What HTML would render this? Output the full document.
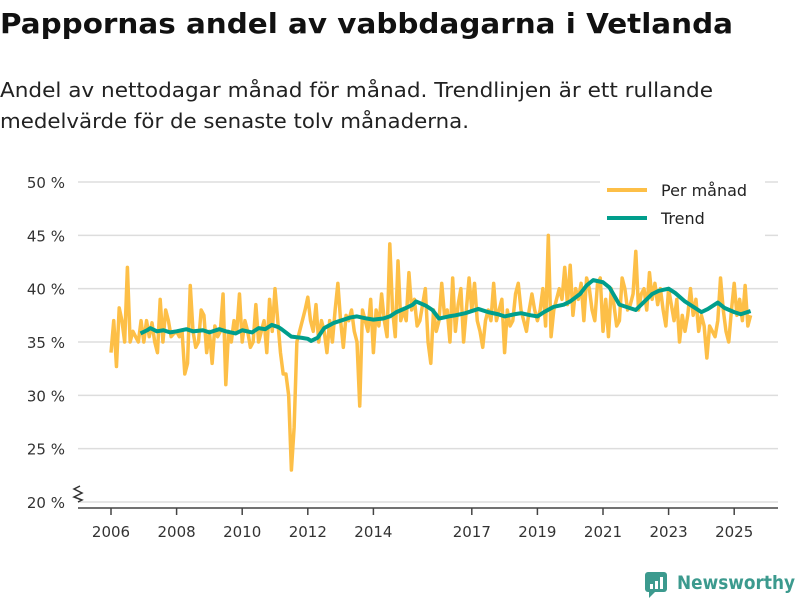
<!DOCTYPE html>
<html><head><meta charset="utf-8"><style>
body{margin:0;width:800px;height:600px;background:#fff;font-family:"DejaVu Sans",sans-serif;overflow:hidden}
svg text{font-family:"DejaVu Sans",sans-serif}
</style></head><body>
<svg width="800" height="600" style="position:absolute;left:0;top:0">
<text x="0" y="33" font-size="28" font-weight="bold" fill="#111" textLength="733" lengthAdjust="spacingAndGlyphs">Pappornas andel av vabbdagarna i Vetlanda</text>
<text x="0" y="97" font-size="20" fill="#222" textLength="713" lengthAdjust="spacingAndGlyphs">Andel av nettodagar månad för månad. Trendlinjen är ett rullande</text>
<text x="0" y="128" font-size="20" fill="#222" textLength="469" lengthAdjust="spacingAndGlyphs">medelvärde för de senaste tolv månaderna.</text>
<g id="grid"></g><g id="xaxis"></g><g id="series"></g>
<g>
<rect x="600" y="176" width="165" height="62" fill="#fff"/>
<line x1="607" y1="190" x2="647" y2="190" stroke="#fdbf47" stroke-width="4"/>
<text x="661" y="196" font-size="16" fill="#222">Per månad</text>
<line x1="607" y1="218" x2="647" y2="218" stroke="#009e8c" stroke-width="4"/>
<text x="661" y="224" font-size="16" fill="#222">Trend</text>
</g>
<g>
<rect x="645" y="572" width="22" height="20" rx="3" fill="#3c9a8e"/>
<path d="M649 592 L649 598 L655 592 Z" fill="#3c9a8e"/>
<rect x="650" y="584" width="3" height="5" fill="#fff"/><rect x="655" y="581" width="3" height="8" fill="#fff"/><rect x="660" y="577" width="3" height="12" fill="#fff"/>
<text x="677" y="589" font-size="19" font-weight="bold" fill="#3c9a8e" textLength="118" lengthAdjust="spacingAndGlyphs">Newsworthy</text>
</g>
</svg>
<script>
const yTicks=[20,25,30,35,40,45,50];
const xTicks=[2006,2008,2010,2012,2014,2017,2019,2021,2023,2025];
const startYear=2006;
const monthly=[
34,37,32.7,38.2,37,35,42,35,36,35.5,35,37,
35,37,35.5,36.8,35,34,39,35,38,37,35.5,35.8,
36,35.5,36,32,33,40.3,36,34.5,35,38,37.5,34,
36,33,36.5,35.5,36,39.5,31,36,35,37,36,39.5,
35,37,36,34.5,35,38.5,35,36,37,34,39,36,
40,37,34,32,32,30,23,27,35,36,37,38,
39.2,37,36,38.5,35,37,36,34,37,35,38,40.5,
37,34.5,37.5,37,38,36,35,29,38,37,36,39,
34,38,36.5,39.5,37,35.5,44.2,38,35.5,42.6,37,38,
37,41.5,38,39,36.5,37,38.5,40,35,33,38,36,
37,40.5,37.5,38,35,41,36,38.5,40,35,38,41,
38,40.5,37,36,34.5,37,38,37,40.5,37,38,39,
34,38,36.5,37,39.5,40.5,38,37,36,38,39.5,38,
37,38,40,36.5,45,35.5,38,39,40,39,42,38.5,
42.2,37.5,40,39,40.5,37,41,40,38,37,40.5,41,
36,39,35.5,40,38.5,36.5,37,41,40,38,38.5,39.5,
43.5,38,39.5,40,38,41.5,39,40.5,38.5,40,38,36.5,
40,38.5,37,39,35,37.5,36,37.5,40,37.5,39,36,
37.5,36.5,33.5,36.5,36,35.5,37,41,38,36,35,38,
40.5,37.5,39,37,40.3,36.5,37.5];
const trendDates=[2006.9,2007.1,2007.2,2007.4,2007.6,2007.8,2008,2008.3,2008.5,2008.8,2009,2009.3,2009.5,2009.8,2010,2010.3,2010.5,2010.7,2010.9,2011.1,2011.2,2011.5,2011.8,2012,2012.1,2012.3,2012.5,2012.8,2013,2013.3,2013.5,2013.8,2014,2014.3,2014.5,2014.7,2015,2015.2,2015.3,2015.6,2015.8,2016,2016.3,2016.5,2016.8,2017,2017.2,2017.5,2017.8,2018,2018.3,2018.5,2018.8,2019,2019.2,2019.5,2019.8,2020,2020.3,2020.5,2020.7,2021,2021.2,2021.5,2021.8,2022,2022.2,2022.5,2022.7,2023,2023.2,2023.5,2023.8,2024,2024.2,2024.5,2024.7,2025,2025.2,2025.5];
const trendValues=[35.8,36.1,36.3,36,36.1,35.9,36,36.2,36,36.1,35.9,36.2,36,35.8,36.1,35.9,36.3,36.2,36.6,36.4,36.2,35.5,35.4,35.3,35.1,35.4,36.3,36.8,37,37.3,37.4,37.2,37.1,37.2,37.4,37.8,38.2,38.5,38.8,38.4,38,37.2,37.4,37.5,37.7,37.9,38.1,37.8,37.6,37.4,37.6,37.7,37.5,37.4,37.8,38.3,38.5,38.8,39.5,40.3,40.8,40.6,40.1,38.5,38.2,38,38.6,39.5,39.8,40,39.6,38.8,38.2,37.8,38.1,38.7,38.2,37.8,37.6,37.9];
const X=v=>111+(v-2006)*32.8, Y=v=>502-(v-20)*10.667;
const NS="http://www.w3.org/2000/svg";
const mk=(t,a,p)=>{const e=document.createElementNS(NS,t);for(const k in a)e.setAttribute(k,a[k]);p.appendChild(e);return e;};
const grid=document.getElementById('grid');
yTicks.forEach(t=>{
const l=mk('line',{x1:78,x2:778,y1:Y(t),y2:Y(t),stroke:'#ddd','stroke-width':1.5},grid);


const tx=mk('text',{x:65,y:Y(t)+6,'text-anchor':'end','font-size':15,fill:'#333'},grid);
tx.textContent=t+' %';


});
const br=mk('path',{d:'M80 486 L74 489 L82 493 L74 497 L82 500 L78 502',fill:'none',stroke:'#333','stroke-width':1.5},grid);


const xa=document.getElementById('xaxis');
const al=mk('line',{x1:78,x2:778,y1:508,y2:508,stroke:'#444','stroke-width':1.5},xa);


xTicks.forEach(t=>{
const tk=mk('line',{x1:X(t),x2:X(t),y1:508,y2:515,stroke:'#444','stroke-width':1.5},xa);


const tx=mk('text',{x:X(t),y:537,'text-anchor':'middle','font-size':15,fill:'#333'},xa);
tx.textContent=t;


});
const s=document.getElementById('series');
const pm=mk('polyline',{points:monthly.map((v,i)=>X(startYear+i/12)+','+Y(v)).join(' '),fill:'none',stroke:'#fdbf47','stroke-width':3.5,'stroke-linejoin':'round'},s);


const tr=mk('polyline',{points:trendValues.map((v,i)=>X(trendDates[i])+','+Y(v)).join(' '),fill:'none',stroke:'#009e8c','stroke-width':4,'stroke-linejoin':'round'},s);


</script>
</body></html>
